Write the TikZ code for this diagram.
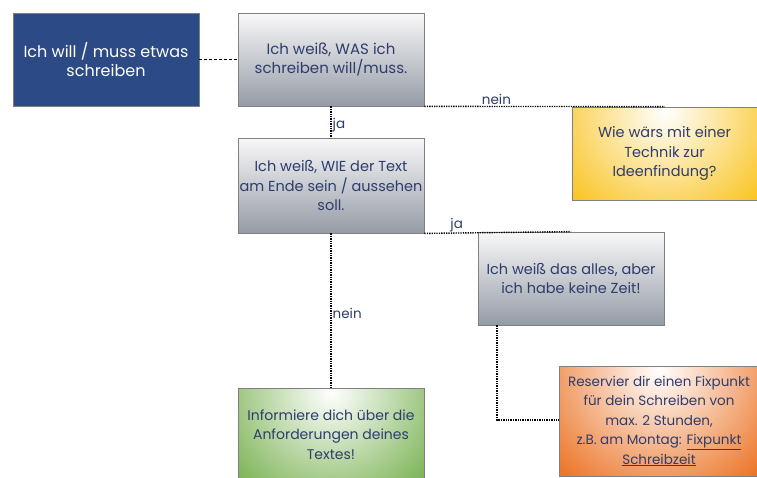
\documentclass[tikz,border=0pt]{standalone}
\usepackage{fontspec}
\setmainfont{Poppins}
\definecolor{navy}{HTML}{2C4A85}
\definecolor{txt}{HTML}{2E3D6C}
\definecolor{grtop}{HTML}{F8F8F9}
\definecolor{grbot}{HTML}{959BA6}
\definecolor{yel}{HTML}{F9BE0C}
\definecolor{grn}{HTML}{6FAC45}
\definecolor{org}{HTML}{EC772B}
\definecolor{bord}{HTML}{808080}
\newcommand{\fs}[1]{\fontsize{#1}{19.5}\selectfont}
\begin{document}
\begin{tikzpicture}[x=1pt,y=-1pt,
  every node/.style={font=\fs{14.5}, align=center, text=txt},
  box/.style={draw=bord, line width=0.8pt, minimum width=186pt, minimum height=93pt, inner sep=0pt},
  graybox/.style={box, top color=grtop, bottom color=grbot},
  glow/.style={box, fill=#1, path picture={\shade[inner color=white, outer color=#1]
      ([yshift=-4pt]path picture bounding box.north) circle (140pt);}},
  dotline/.style={line width=1.4pt, dash pattern=on 1.3pt off 1.1pt},
  lbl/.style={font=\fontsize{13.5}{15}\selectfont, inner sep=1pt}
]
\useasboundingbox (0,0) rectangle (757,477);
\fill[white] (0,0) rectangle (757,477);

\node[box, fill=navy, text=white, font=\fs{16}] (start) at (106,59.5) {Ich will / muss etwas\\schreiben};
\node[graybox, font=\fs{15}] (was) at (331,59.5) {Ich weiß, WAS ich\\schreiben will/muss.};
\node[graybox, minimum height=95pt, font=\fs{14.5}] (wie) at (331,185.5) {Ich weiß, WIE der Text\\am Ende sein / aussehen\\soll.};
\node[glow=yel, minimum width=185pt] (idee) at (664.5,153.5) {Wie wärs mit einer\\Technik zur\\Ideenfindung?};
\node[graybox] (zeit) at (571,278.5) {Ich weiß das alles, aber\\ich habe keine Zeit!};
\node[glow=grn, minimum height=93pt, font=\fs{14}] (info) at (331,434.5) {Informiere dich über die\\Anforderungen deines\\Textes!};
\node[glow=org, minimum width=200pt, minimum height=110pt, font=\fs{13.5}] (fix) at (659,421) {Reservier dir einen Fixpunkt\\für dein Schreiben von\\max. 2 Stunden,\\z.B. am Montag: \underline{Fixpunkt}\\\underline{Schreibzeit}};

\coordinate (k) at (497,420);

\draw[line width=0.7pt, dash pattern=on 3pt off 2pt] (start.east) -- (was.west);
\draw[dotline] (was.south) -- node[lbl, right, pos=0.6] {ja} (wie.north);
\draw[dotline] (was.south east) -- node[lbl, above, pos=0.3] {nein} (idee.north);
\draw[dotline] (wie.south east) -- node[lbl, above, pos=0.22, inner sep=0pt] {ja} (zeit.north);
\draw[dotline] (wie.south) -- node[lbl, right, pos=0.52] {nein} (info.north);
\draw[dotline] (zeit.south -| k) -- (k) -- (fix.west |- k);
\end{tikzpicture}
\end{document}
